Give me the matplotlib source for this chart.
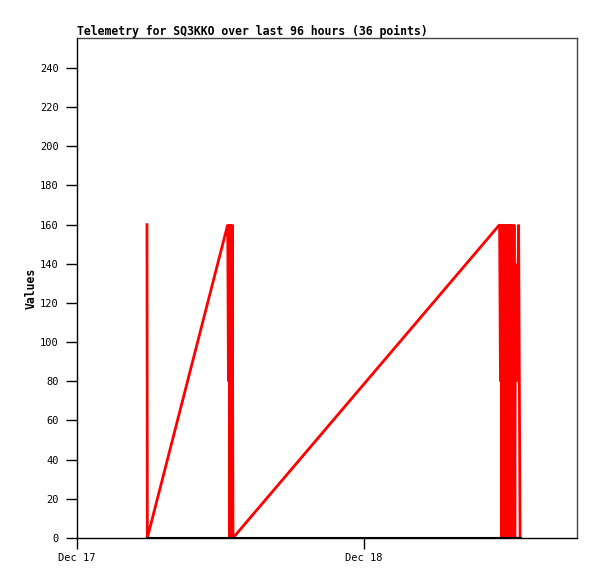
import matplotlib
matplotlib.use("Agg")
import matplotlib.pyplot as plt
import matplotlib.dates as mdates
import pandas as pd
import numpy as np

# hours since Dec 17 00:00
hours = [5.85, 5.88,
         12.60, 12.66, 12.72, 12.78, 12.84, 12.92, 12.98, 13.04,
         35.33, 35.40, 35.46, 35.52, 35.58, 35.64, 35.70, 35.76, 35.82, 35.88,
         35.94, 36.00, 36.06, 36.12, 36.18, 36.24, 36.30, 36.36, 36.42, 36.48,
         36.54, 36.60, 36.66, 36.75, 36.92, 37.04]
red_values = [160, 0,
              160, 80, 160, 0, 160, 0, 160, 0,
              160, 80, 160, 0, 160, 80, 0, 160, 0, 160,
              80, 160, 0, 160, 0, 160, 80, 0, 160, 20,
              160, 0, 140, 80, 160, 0]
black_values = [0] * len(hours)
title = "Telemetry for SQ3KKO over last 96 hours (36 points)"
ylabel = "Values"
start = pd.Timestamp("2023-12-17 00:00")
x_end_hours = 41.8

times = [start + pd.Timedelta(hours=h) for h in hours]

fig = plt.figure(figsize=(5.97, 5.79), dpi=100)
ax = fig.add_axes([77/597, 1 - 538/579, 500/597, 500/579])
mono = "DejaVu Sans Mono"

ax.plot(times, red_values, color="#ff0000", lw=2.0, solid_joinstyle="miter")
ax.plot(times, black_values, color="black", lw=2.2)

ax.set_xlim(start, start + pd.Timedelta(hours=x_end_hours))
ax.set_ylim(0, 255.3)
ax.set_yticks(range(0, 241, 20))
ax.xaxis.set_major_locator(mdates.DayLocator())
ax.xaxis.set_major_formatter(mdates.DateFormatter("%b %d"))

ax.tick_params(axis="both", direction="out", length=8, width=1, labelsize=7.5,
               top=False, right=False)
ax.tick_params(axis="x", pad=3)
ax.tick_params(axis="y", pad=5)
for lab in ax.get_xticklabels() + ax.get_yticklabels():
    lab.set_fontfamily(mono)

for s in ["top", "right"]:
    ax.spines[s].set_color("#444444")
for s in ax.spines.values():
    s.set_linewidth(1)

ax.set_title(title, loc="left", fontfamily=mono, fontweight="bold", fontsize=8.3, pad=2)
ax.set_ylabel(ylabel, fontfamily=mono, fontweight="bold", fontsize=8.3, labelpad=2)

fig.savefig("out.png", dpi=100)
